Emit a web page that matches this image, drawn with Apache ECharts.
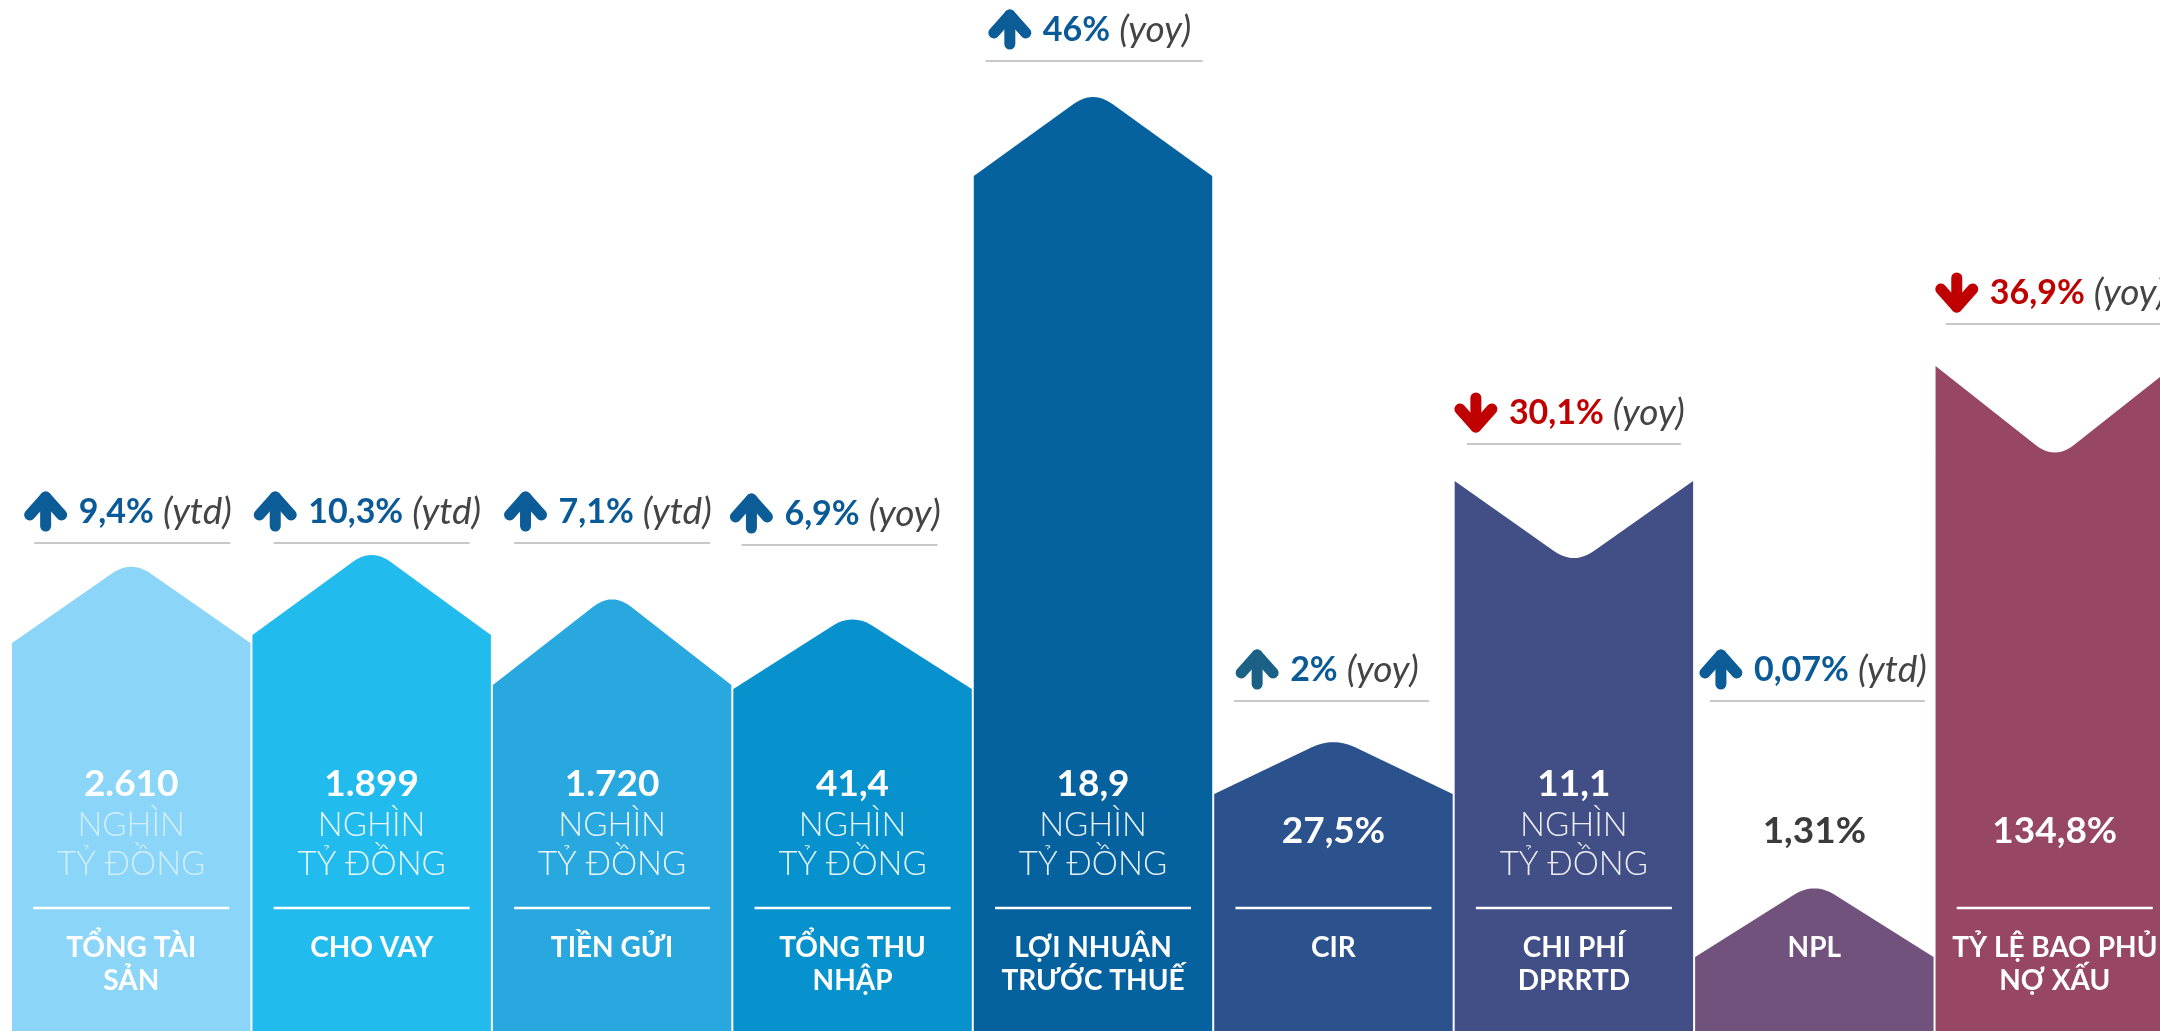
<!DOCTYPE html>
<html><head><meta charset="utf-8">
<script src="https://cdn.jsdelivr.net/npm/echarts@6/dist/echarts.min.js"></script>
<style>html,body{margin:0;padding:0;background:#fff;overflow:hidden}#chart{width:2160px;height:1031px;}</style>
</head><body><div id="chart"></div>
<script>
// ---- data ----
const categories = ['TỔNG TÀI\nSẢN', 'CHO VAY', 'TIỀN GỬI', 'TỔNG THU\nNHẬP', 'LỢI NHUẬN\nTRƯỚC THUẾ', 'CIR', 'CHI PHÍ\nDPRRTD', 'NPL', 'TỶ LỆ BAO PHỦ\nNỢ XẤU'];
const valueTexts = ['2.610', '1.899', '1.720', '41,4', '18,9', '27,5%', '11,1', '1,31%', '134,8%'];
const unitTexts = ['NGHÌN\nTỶ ĐỒNG', 'NGHÌN\nTỶ ĐỒNG', 'NGHÌN\nTỶ ĐỒNG', 'NGHÌN\nTỶ ĐỒNG', 'NGHÌN\nTỶ ĐỒNG', '', 'NGHÌN\nTỶ ĐỒNG', '', ''];
const changeTexts = ['9,4%', '10,3%', '7,1%', '6,9%', '46%', '2%', '30,1%', '0,07%', '36,9%'];
const changeDirections = ['up', 'up', 'up', 'up', 'up', 'up', 'down', 'up', 'down'];
const changePeriods = ['(ytd)', '(ytd)', '(ytd)', '(yoy)', '(yoy)', '(yoy)', '(yoy)', '(ytd)', '(yoy)'];
// bar body height (shoulder / corner level) and tip height (apex or notch), in chart units
const barHeights = [388, 396, 346, 342, 855, 237, 550, 74, 665];
const tipHeights = [471, 483, 439, 418, 941, 294, 466, 149, 571];

// ---- styles / layout ----
const barColors = ['#8bd6f8', '#22bbee', '#29a7df', '#0792cd', '#06629e', '#2b528d', '#414f86', '#71527d', '#974764'];
const unitColors = ['rgba(255,255,255,0.6)', 'rgba(255,255,255,0.9)', 'rgba(255,255,255,0.9)', 'rgba(255,255,255,0.9)', 'rgba(255,255,255,0.9)', '', 'rgba(255,255,255,0.9)', '', ''];
const valueOnBar = [true, true, true, true, true, true, true, false, true];
const headerLevels = [519, 519, 519, 517, 1001, 361, 618, 361, 738];
const headerLineWidths = [196, 196, 196, 196, 217, 195, 214, 215, 218];
const headerShift = [1, 0, 0, -13, 1, -2, 0, 3, 0];
const arrowColors = ['#0b5c97', '#0b5c97', '#0b5c97', '#0b5c97', '#0b5c97', '#1b6185', '#c00000', '#0b5c97', '#c00000'];

const FONT = 'Lato, "Open Sans", sans-serif';
const measureCtx = document.createElement('canvas').getContext('2d');
function textWidth(t, font) { measureCtx.font = font; return measureCtx.measureText(t).width; }

function renderItem(params, api) {
  const i = api.value(0);
  const base = api.coord([i, 0]);
  const top = api.coord([i, api.value(1)]);
  const tip = api.coord([i, api.value(2)]);
  const band = api.size([1, 0])[0];
  const cx = base[0], w = band - 2, L = cx - w / 2, R = cx + w / 2;
  const by = base[1];

  // shape with rounded apex / notch
  const pts = [[L, by], [L, top[1]]];
  const dx = L - cx, dy = top[1] - tip[1];
  const len = Math.sqrt(dx * dx + dy * dy);
  const r = 24;
  const p1 = [cx + dx / len * r, tip[1] + dy / len * r];
  const p2 = [cx - dx / len * r, tip[1] + dy / len * r];
  const n = 12;
  for (let k = 0; k <= n; k++) {
    const t = k / n;
    const x = (1 - t) * (1 - t) * p1[0] + 2 * (1 - t) * t * cx + t * t * p2[0];
    const y = (1 - t) * (1 - t) * p1[1] + 2 * (1 - t) * t * tip[1] + t * t * p2[1];
    pts.push([x, y]);
  }
  pts.push([R, top[1]], [R, by]);

  const children = [{
    type: 'polygon', shape: { points: pts }, style: { fill: barColors[i] }
  }];

  const hasUnit = unitTexts[i] !== '';
  children.push({
    type: 'text',
    style: {
      text: valueTexts[i], x: cx, y: by - (hasUnit ? 247 : 200),
      font: 'bold 37px ' + FONT, fill: valueOnBar[i] ? '#ffffff' : '#3b3b3b',
      align: 'center', verticalAlign: 'middle'
    }
  });
  if (hasUnit) {
    children.push({
      type: 'text',
      style: {
        text: unitTexts[i], x: cx, y: by - 206 - 19.5, lineHeight: 39,
        font: '300 33px ' + FONT, fill: unitColors[i],
        align: 'center', verticalAlign: 'top'
      }
    });
  }
  if (valueOnBar[i]) {
    children.push({
      type: 'line', shape: { x1: cx - 98, y1: by - 123, x2: cx + 98, y2: by - 123 },
      style: { stroke: '#ffffff', lineWidth: 2.5 }
    });
  }
  children.push({
    type: 'text',
    style: {
      text: categories[i], x: cx, y: by - 83 - 16.5, lineHeight: 33,
      font: 'bold 28px ' + FONT, fill: '#ffffff',
      align: 'center', verticalAlign: 'top'
    }
  });

  // header: arrow + change + period, with grey rule
  const hy = api.coord([i, headerLevels[i]])[1];
  const lc = cx + headerShift[i];
  const hw = headerLineWidths[i];
  children.push({
    type: 'line', shape: { x1: lc - hw / 2, y1: hy + 31, x2: lc + hw / 2, y2: hy + 31 },
    style: { stroke: '#c8c8c8', lineWidth: 2 }
  });
  const pctFont = 'bold 34px ' + FONT;
  const sufFont = 'italic 37px ' + FONT;
  const pw = textWidth(changeTexts[i], pctFont);
  const sw = textWidth(changePeriods[i], sufFont);
  const total = 42 + 12 + pw + 9 + sw;
  const x0 = lc - 4 - total / 2;
  const ac = x0 + 21, ay = hy - 20;
  const down = changeDirections[i] === 'down';
  const aStyle = { stroke: arrowColors[i], lineWidth: 11, lineCap: 'round', lineJoin: 'round', fill: null };
  if (!down) {
    children.push({ type: 'polyline', shape: { points: [[ac - 16, ay + 23], [ac, ay + 5], [ac + 16, ay + 23]] }, style: aStyle });
  } else {
    children.push({ type: 'polyline', shape: { points: [[ac - 16, ay + 16], [ac, ay + 34], [ac + 16, ay + 16]] }, style: aStyle });
  }
  children.push({ type: 'line', shape: { x1: ac, y1: ay + 5, x2: ac, y2: ay + 34 }, style: aStyle });
  children.push({
    type: 'text',
    style: {
      text: changeTexts[i], x: x0 + 54, y: hy, font: pctFont,
      fill: down ? '#c00000' : '#0a5a97', align: 'left', verticalAlign: 'middle'
    }
  });
  children.push({
    type: 'text',
    style: {
      text: changePeriods[i], x: x0 + 54 + pw + 9, y: hy, font: sufFont,
      fill: '#444444', align: 'left', verticalAlign: 'middle'
    }
  });

  return { type: 'group', children: children };
}

const chart = echarts.init(document.getElementById('chart'), null, { renderer: 'canvas' });
chart.setOption({
  backgroundColor: '#ffffff',
  animation: false,
  grid: { left: 11, top: 0, width: 2164, height: 1031, outerBoundsMode: 'none', containLabel: false },
  xAxis: { type: 'category', data: categories, show: false },
  yAxis: { type: 'value', min: 0, max: 1031, show: false },
  series: [{
    type: 'custom',
    silent: true,
    clip: false,
    renderItem: renderItem,
    data: categories.map((c, i) => [i, barHeights[i], tipHeights[i]])
  }]
});
</script>
</body></html>
